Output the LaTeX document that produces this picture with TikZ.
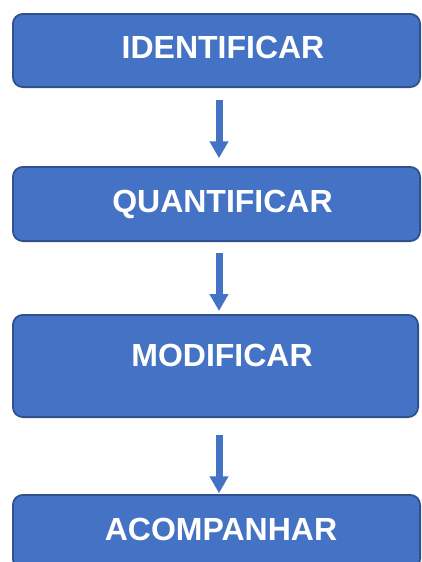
\documentclass[tikz,border=0pt]{standalone}
\usepackage{fontspec}
\setmainfont{Liberation Sans}
\usetikzlibrary{arrows.meta}
\definecolor{boxfill}{HTML}{4472C4}
\definecolor{boxline}{HTML}{2F528F}
\begin{document}
\begin{tikzpicture}[x=1pt,y=-1pt,
  stepbox/.style={draw=boxline, fill=boxfill, line width=1.8pt, rounded corners=10pt, inner sep=0pt},
  steptext/.style={text=white, font=\fontsize{32}{32}\selectfont\bfseries, inner sep=0pt, anchor=base},
  flow/.style={draw=boxfill, line width=7pt, -{Triangle[width=18pt,length=17pt]}}
]
\useasboundingbox (0,0) rectangle (422,562);
\clip (0,0) rectangle (422,562);
\node[stepbox, minimum width=407.2pt, minimum height=73.2pt] (b1) at (216.5,50.5) {};
\node[stepbox, minimum width=407.2pt, minimum height=74.2pt] (b2) at (216.5,204) {};
\node[stepbox, minimum width=405.2pt, minimum height=102.2pt] (b3) at (215.5,366) {};
\node[stepbox, minimum width=407.2pt, minimum height=74.2pt] (b4) at (216.5,532) {};
\node[steptext] (t1) at (223,58.5) {IDENTIFICAR};
\node[steptext] (t2) at (222.5,212) {QUANTIFICAR};
\node[steptext] (t3) at (222,366) {MODIFICAR};
\node[steptext] (t4) at (221,540) {ACOMPANHAR};
\draw[flow] ([xshift=2.5pt,yshift=-11.75pt]b1.south) -- ([xshift=2.5pt,yshift=7.75pt]b2.north);
\draw[flow] ([xshift=2.5pt,yshift=-10.75pt]b2.south) -- ([xshift=3.5pt,yshift=3pt]b3.north);
\draw[flow] ([xshift=3.5pt,yshift=-16.75pt]b3.south) -- ([xshift=2.5pt,yshift=0.75pt]b4.north);
\end{tikzpicture}
\end{document}
